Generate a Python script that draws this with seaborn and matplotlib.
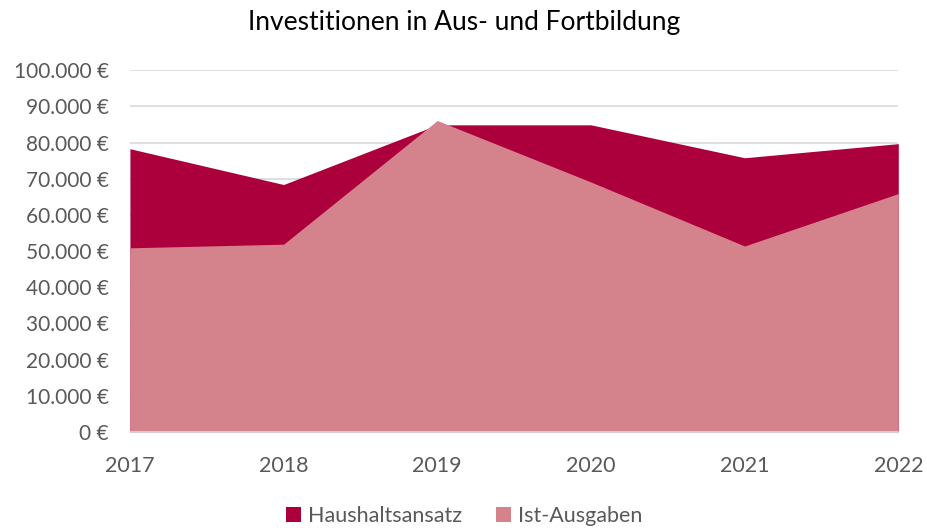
import numpy as np
import pandas as pd
import matplotlib
matplotlib.use("Agg")
import matplotlib.pyplot as plt
from matplotlib.ticker import FuncFormatter, MultipleLocator
from matplotlib.patches import Patch
import seaborn as sns

# Werte
years = [2017, 2018, 2019, 2020, 2021, 2022]
haushaltsansatz = [78300, 68400, 84900, 84900, 75800, 79700]
ist_ausgaben = [50900, 51900, 86100, 69100, 51400, 65900]
series_names = ["Haushaltsansatz", "Ist-Ausgaben"]
colors = ["#AC003C", "#D4828C"]

df = pd.DataFrame({"Jahr": years,
                   series_names[0]: haushaltsansatz,
                   series_names[1]: ist_ausgaben})
df_long = df.melt(id_vars="Jahr", var_name="Serie", value_name="Betrag")

sns.set_theme(style="white")
plt.rcParams['font.family'] = ['Lato', 'DejaVu Sans']

fig = plt.figure(figsize=(9.28, 5.28), dpi=100)
ax = fig.add_axes([0.140, 0.182, 0.828, 0.685])

# Flächen (nicht gestapelt, überlappend)
for name, col in zip(series_names, colors):
    sub = df_long[df_long["Serie"] == name]
    ax.fill_between(sub["Jahr"], 0, sub["Betrag"], color=col, linewidth=0, zorder=2)
sns.lineplot(data=df_long, x="Jahr", y="Betrag", hue="Serie", palette=colors,
             linewidth=0, legend=False, ax=ax, zorder=2)

ax.set_xlim(2017, 2022)
ax.set_ylim(0, 100000)
ax.yaxis.set_major_locator(MultipleLocator(10000))
ax.yaxis.set_major_formatter(FuncFormatter(
    lambda v, p: f"{int(v):,} €".replace(",", ".")))
ax.set_xticks(years)

ax.grid(axis="y", color="#D9D9D9", linewidth=1.2, zorder=0)
ax.grid(axis="x", visible=False)
for s in ["top", "right", "left"]:
    ax.spines[s].set_visible(False)
ax.spines["bottom"].set_color("#D9D9D9")
ax.spines["bottom"].set_linewidth(1.2)
ax.spines["bottom"].set_zorder(3)

ax.tick_params(axis="x", colors="#595959", labelsize=15.5, length=5,
               width=1.2, color="#D9D9D9", direction="out", pad=12)
ax.tick_params(axis="y", colors="#595959", labelsize=15, length=0, pad=15)
for t in ax.get_xticklabels() + ax.get_yticklabels():
    t.set_color("#595959")
ax.set_xlabel("")
ax.set_ylabel("")

fig.text(0.5, 0.957, "Investitionen in Aus- und Fortbildung", ha="center",
         va="center", fontsize=19, color="#000000")

handles = [Patch(facecolor=c, edgecolor="none") for c in colors]
leg = fig.legend(handles, series_names, loc="center", bbox_to_anchor=(0.5, 0.022),
                 ncol=2, frameon=False, fontsize=15.5, handlelength=0.7,
                 handleheight=0.7, handletextpad=0.3, columnspacing=1.6)
for t in leg.get_texts():
    t.set_color("#595959")

fig.savefig("out.png", dpi=100)
